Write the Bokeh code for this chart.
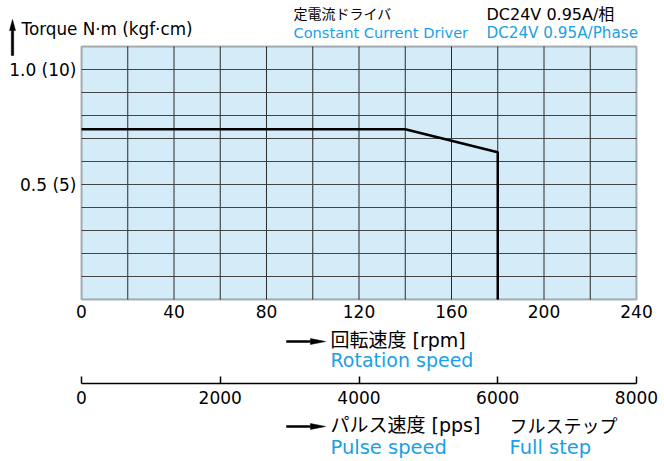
from bokeh.plotting import figure
from bokeh.models import Range1d, LinearAxis, FixedTicker, Label, PolyAnnotation, BoxAnnotation
from bokeh.embed import file_html
from bokeh.resources import INLINE

# ---- data ----
rpm = [0, 140, 180, 180]
torque = [0.74, 0.74, 0.64, 0.0]

rpm_max = 240
torque_max = 1.1
pulse_max = 8000
rpm_ticks = [0, 40, 80, 120, 160, 200, 240]
rpm_grid = [20, 40, 60, 80, 100, 120, 140, 160, 180, 200, 220]
pulse_ticks = [0, 2000, 4000, 6000, 8000]
torque_ticks = [0.5, 1.0]
torque_tick_labels = ["0.5 (5)", "1.0 (10)"]
torque_grid = [0.1, 0.2, 0.3, 0.4, 0.5, 0.6, 0.7, 0.8, 0.9, 1.0]

LATIN = "DejaVu Sans"
CJK = "Noto Sans CJK JP"
MIXED = "DejaVu Sans, Noto Sans CJK JP"
BLUE = "#1aa0e6"
FILL = "#d4ebf8"

# ---- layout: the frame covers the whole canvas; chart box placed by pixels ----
W, H = 664, 461
FL, FR, FT, FB = 81, 636, 46, 299   # chart box edges in canvas pixels
SX = (FR - FL) / rpm_max
SY = (FB - FT) / torque_max

def px2x(px):
    return (px - FL) / SX

def py2y(py):
    return (FB - py) / SY

x_rng = Range1d(px2x(0), px2x(W))
y_rng = Range1d(py2y(H), py2y(0))
k = pulse_max / rpm_max

p = figure(width=W, height=H, x_range=x_rng, y_range=y_rng,
           output_backend="svg", toolbar_location=None,
           min_border=0, min_border_left=0, min_border_right=0,
           min_border_top=0, min_border_bottom=0)
p.outline_line_color = None
p.background_fill_color = "white"
p.border_fill_color = "white"
p.xgrid.visible = False
p.ygrid.visible = False

# chart box fill
p.add_layout(BoxAnnotation(left=0, right=rpm_max, bottom=0, top=torque_max,
                           fill_color=FILL, fill_alpha=1, line_color=None, level="underlay"))

# grid lines
p.segment(x0=rpm_grid, y0=[0] * len(rpm_grid), x1=rpm_grid, y1=[torque_max] * len(rpm_grid),
          line_color="#2a2a2a", line_width=1)
p.segment(x0=[0] * len(torque_grid), y0=torque_grid, x1=[rpm_max] * len(torque_grid), y1=torque_grid,
          line_color="#444444", line_width=1)

# curve
p.line(rpm, torque, line_width=2.5, line_color="black")

# chart box border
p.add_layout(BoxAnnotation(left=0, right=rpm_max, bottom=0, top=torque_max,
                           fill_alpha=0, line_color="black", line_width=2))

def style_axis(ax, size="17px", standoff=5):
    ax.axis_line_color = None
    ax.major_tick_out = 0
    ax.major_tick_in = 0
    ax.minor_tick_out = 0
    ax.minor_tick_in = 0
    ax.major_label_text_font = LATIN
    ax.major_label_text_font_size = size
    ax.major_label_text_color = "black"
    ax.major_label_standoff = standoff

# rpm axis (pinned at torque 0)
xa = p.xaxis[0]
xa.ticker = FixedTicker(ticks=rpm_ticks)
xa.fixed_location = 0
xa.bounds = (0, rpm_max)
style_axis(xa, standoff=5)

# torque axis (pinned at rpm 0)
ya = p.yaxis[0]
ya.ticker = FixedTicker(ticks=torque_ticks)
ya.major_label_overrides = {t: s for t, s in zip(torque_ticks, torque_tick_labels)}
ya.fixed_location = 0
ya.bounds = (0, torque_max)
style_axis(ya, standoff=5)

# pulse axis
p.extra_x_ranges = {"pulse": Range1d(x_rng.start * k, x_rng.end * k)}
pa = LinearAxis(x_range_name="pulse", ticker=FixedTicker(ticks=pulse_ticks))
pa.fixed_location = py2y(383)
pa.bounds = (0, pulse_max)
style_axis(pa, standoff=7)
pa.axis_line_color = "black"
pa.axis_line_width = 1.5
pa.major_tick_in = 7
pa.major_tick_line_width = 1.5
pa.major_tick_line_color = "black"
p.add_layout(pa, "below")

# ---- texts and arrows ----
def lab(text, px, py, font, size, color="black"):
    p.add_layout(Label(x=px2x(px), y=py2y(py), text=text, text_font=font,
                       text_font_size=size, text_color=color,
                       text_baseline="middle", text_align="left"))

def arrow_right(x0, x1, y, head=15, h=1.0, hw=3.0):
    xh = x1 - head
    pts = [(x0, y - h), (xh, y - h), (xh, y - hw), (x1, y), (xh, y + hw), (xh, y + h), (x0, y + h)]
    p.add_layout(PolyAnnotation(xs=[px2x(a) for a, b in pts], ys=[py2y(b) for a, b in pts],
                                fill_color="black", fill_alpha=1, line_color="black",
                                line_width=0.5, line_alpha=1))

def arrow_up(x, y0, y1, head=11, h=1.2, hw=3.0):
    yh = y1 + head
    pts = [(x - h, y0), (x - h, yh), (x - hw, yh), (x, y1), (x + hw, yh), (x + h, yh), (x + h, y0)]
    p.add_layout(PolyAnnotation(xs=[px2x(a) for a, b in pts], ys=[py2y(b) for a, b in pts],
                                fill_color="black", fill_alpha=1, line_color="black",
                                line_width=0.5, line_alpha=1))

lab("Torque N·m (kgf·cm)", 21, 28, LATIN, "16.8px")
arrow_up(12, 55, 19)

lab("定電流ドライバ", 293, 12, CJK, "14px")
lab("Constant Current Driver", 293, 32, LATIN, "14.6px", BLUE)
lab("DC24V 0.95A/相", 486, 13.5, MIXED, "16px")
lab("DC24V 0.95A/Phase", 486, 32, LATIN, "15.2px", BLUE)

arrow_right(286, 325, 341)
lab("回転速度 [rpm]", 330, 339.5, MIXED, "19px")
lab("Rotation speed", 330, 359.5, LATIN, "19px", BLUE)

arrow_right(286, 325, 426)
lab("パルス速度 [pps]", 330, 424, MIXED, "19px")
lab("フルステップ", 509, 424, CJK, "18px")
lab("Pulse speed", 330, 446.5, LATIN, "19.5px", BLUE)
lab("Full step", 509, 446.5, LATIN, "19.5px", BLUE)

open("out.html", "w").write(file_html(p, INLINE))
